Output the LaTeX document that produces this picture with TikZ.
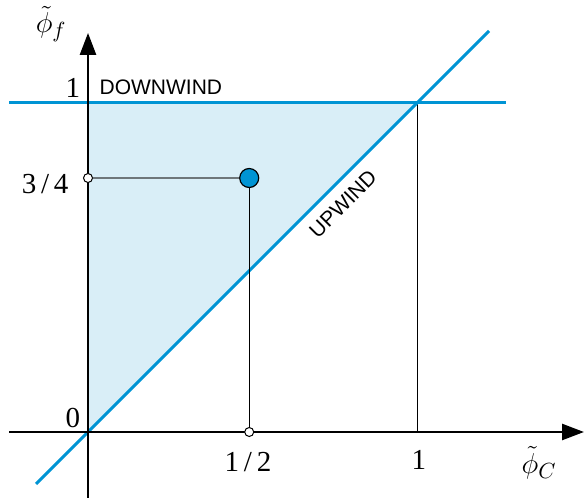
\documentclass[tikz,border=0pt]{standalone}
\usepackage{fontspec}
\setmainfont{Liberation Serif}
\newfontfamily\labelfont{Liberation Sans}
\usetikzlibrary{arrows.meta, positioning}
\definecolor{nvblue}{RGB}{0,148,212}
\definecolor{nvfill}{RGB}{217,238,247}
\definecolor{nvgrey}{RGB}{110,118,122}

\begin{document}
\begin{tikzpicture}[x=164.5pt, y=164.5pt,
  axis/.style={line width=1.25pt, -{Triangle[length=11pt, width=8pt]}},
  bound/.style={line width=1.5pt, draw=nvblue},
  guide/.style={line width=0.5pt},
  num/.style={font=\fontsize{14.5}{16}\selectfont, inner sep=1pt},
  tag/.style={font=\labelfont\fontsize{10.5}{12}\selectfont, inner sep=1pt},
  hollow/.style={circle, draw, fill=white, inner sep=0pt, minimum size=4.5pt, line width=0.5pt},
  state/.style={circle, draw, fill=nvblue, inner sep=0pt, minimum size=9.5pt, line width=0.6pt},
]
  \useasboundingbox (-0.2675,-0.2006) rectangle (1.5076,1.3131);

  % normalised variable diagram
  \coordinate (O) at (0,0);
  \coordinate (Xs) at (-0.24,0);
  \coordinate (Xe) at (1.5076,0);
  \coordinate (Ys) at (0,-0.2);
  \coordinate (Ye) at (0,1.213);
  \coordinate (Ds) at (-0.24,1);
  \coordinate (De) at (1.27,1);
  \coordinate (Us) at (-0.158,-0.158);
  \coordinate (Ue) at (1.219,1.219);
  \coordinate (T) at (0,1);
  \coordinate (C) at (1,1);
  \coordinate (Cx) at (1,0);

  \fill[nvfill] (O) -- (T) -- (C) -- cycle;

  % bounds
  \draw[guide] (Cx) -- (C);
  \draw[bound] (Ds) -- (De);
  \draw[bound] (Us) -- (Ue);

  % axes
  \draw[axis] (Xs) -- (Xe);
  \draw[axis] (Ys) -- (Ye);

  % chosen point
  \node[hollow] (pc) at (0.49,0) {};
  \node[hollow] (pf) at (0,0.772) {};
  \node[state] (pt) at (0.49,0.772) {};
  \draw[guide] (pc) -- (pt);
  \draw[guide, nvgrey, line width=0.75pt] (pf) -- (pt);

  % labels
  \node[num] (l1) at (-0.046,1.046) {1};
  \node[num, anchor=east] (l34) at (-0.052,0.754) {3\,/\,4};
  \node[num] (l0) at (-0.046,0.043) {0};
  \node[num] (l12) at (0.486,-0.091) {1\,/\,2};
  \node[num] (lx1) at (1.006,-0.085) {1};
  \node[num, font=\fontsize{15.5}{17}\selectfont] (phic) at (1.371,-0.094) {$\tilde{\phi}_C$};
  \node[num, font=\fontsize{15.5}{17}\selectfont] (phif) at (-0.112,1.240) {$\tilde{\phi}_f$};
  \node[tag, anchor=west] (down) at (0.028,1.049) {DOWNWIND};
  \node[tag, rotate=45] (up) at (0.775,0.693) {UPWIND};
\end{tikzpicture}
\end{document}
